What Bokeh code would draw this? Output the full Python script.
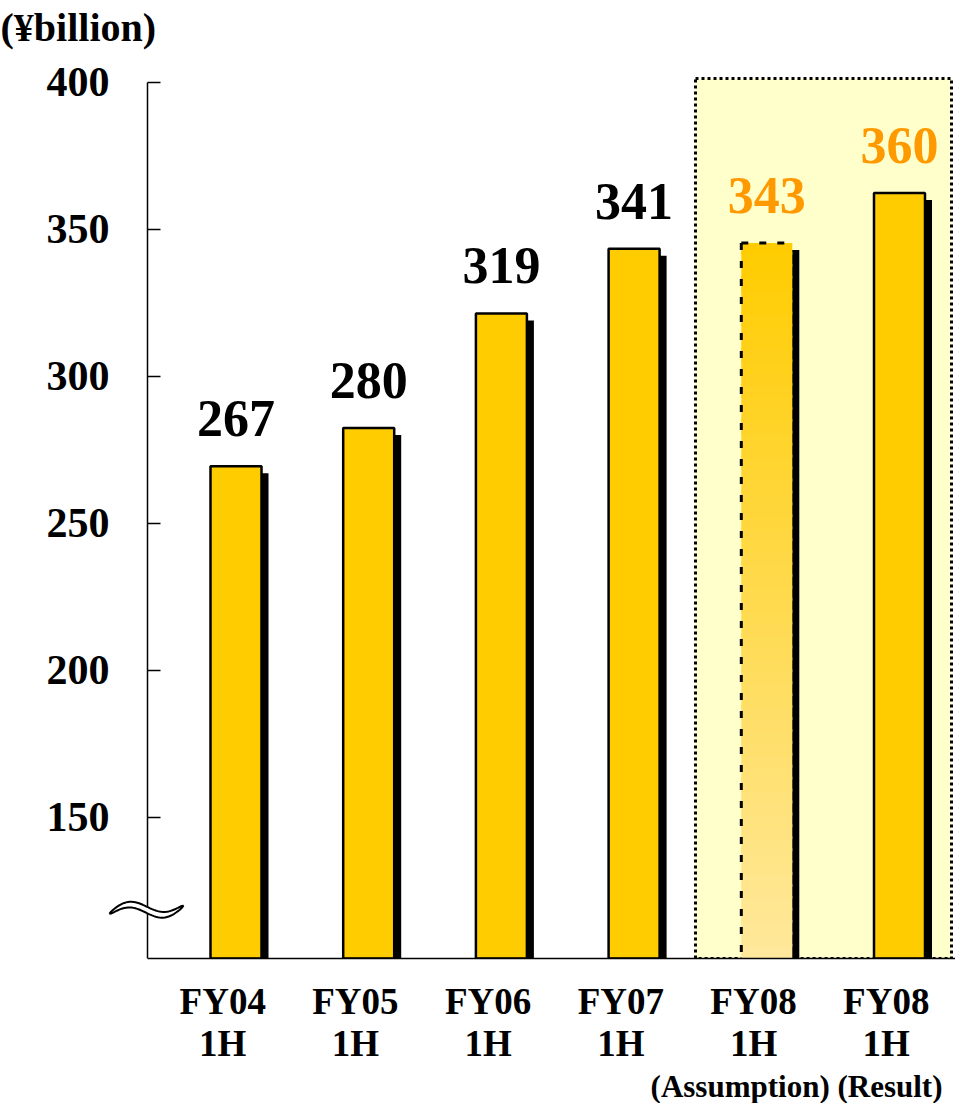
import numpy as np
from bokeh.plotting import figure
from bokeh.models import Range1d, FixedTicker, Title, BoxAnnotation, PolyAnnotation, ColumnDataSource
from bokeh.embed import file_html
from bokeh.resources import INLINE
from bokeh.core.properties import value

# ---------------- data ----------------
categories = ["FY04\n1H", "FY05\n1H", "FY06\n1H", "FY07\n1H", "FY08\n1H", "FY08\n1H"]
sales = [267, 280, 319, 341, 343, 360]
label_colors = ["#000000", "#000000", "#000000", "#000000", "#FF9900", "#FF9900"]
y_ticks = [150, 200, 250, 300, 350, 400]
unit_text = "(¥billion)"
note_text = "(Assumption) (Result)"
assumption_index = 4

# ---------------- layout / style ----------------
FONT = "Liberation Serif"
W, H = 955, 1103
AXIS_PX = 147
FRAME_L, FRAME_R, FRAME_T, FRAME_B = 40, 955, 50, 960
PX_PER_CAT = 132.7
PX_PER_UNIT = 2.952
X0_PX = 235.5
Y_TOP = 400
x_start = -(X0_PX - FRAME_L) / PX_PER_CAT
x_end = (FRAME_R - X0_PX) / PX_PER_CAT
y_end = Y_TOP + (80 - FRAME_T) / PX_PER_UNIT
y_start = Y_TOP - (FRAME_B - 80) / PX_PER_UNIT

def px_x(px):
    return (px - X0_PX) / PX_PER_CAT

def px_y(py):
    return Y_TOP - (py - 80) / PX_PER_UNIT

BAR_W = 51 / PX_PER_CAT
SH_DX = 7 / PX_PER_CAT
SH_DY = 7 / PX_PER_UNIT
LABEL_GAP = 55 / PX_PER_UNIT
TICK_SHIFT = -0.1
BAR_COLOR = "#FFCC00"

xs = list(range(len(sales)))

p = figure(width=W, height=H, output_backend="svg", toolbar_location=None,
           x_range=Range1d(x_start, x_end), y_range=Range1d(y_start, y_end),
           min_border_left=FRAME_L, min_border_right=W - FRAME_R,
           min_border_top=FRAME_T, min_border_bottom=H - FRAME_B)
p.outline_line_color = None
p.grid.visible = False
p.background_fill_color = "white"
p.border_fill_color = "white"

# unit title (above)
p.title = Title(text=unit_text, align="left", offset=-FRAME_L, standoff=5,
                text_font=FONT, text_font_style="bold", text_font_size="40px",
                text_line_height=0.8, text_color="black")

# highlight box
box = BoxAnnotation(left=px_x(695), right=px_x(951), top=px_y(76), bottom=y_start,
                    fill_color="#FFFFCC", fill_alpha=1.0, line_color="black", line_alpha=1.0,
                    line_width=3, line_dash="3 3", level="underlay")
p.add_layout(box)

# shadows
sh = ColumnDataSource(dict(
    left=[x - BAR_W / 2 + SH_DX for x in xs],
    right=[x + BAR_W / 2 + SH_DX for x in xs],
    top=sales,
    bottom=[y_start] * len(xs)))
p.quad(left="left", right="right", top="top", bottom="bottom", source=sh,
       fill_color="black", line_color=None)

# solid bars
solid = [i for i in xs if i != assumption_index]
bs = ColumnDataSource(dict(
    left=[xs[i] - BAR_W / 2 for i in solid],
    right=[xs[i] + BAR_W / 2 for i in solid],
    top=[sales[i] + SH_DY for i in solid],
    bottom=[y_start] * len(solid)))
p.quad(left="left", right="right", top="top", bottom="bottom", source=bs,
       fill_color=BAR_COLOR, line_color="black", line_width=2.5)

# assumption bar with gradient
ai = assumption_index
a_left = xs[ai] - BAR_W / 2
a_right = xs[ai] + BAR_W / 2
a_top = sales[ai] + SH_DY
N = 60
edges = np.linspace(y_start, a_top, N + 1)
overlap = 1.0
c_top = np.array([255, 204, 0])
c_bot = np.array([255, 232, 156])
cols = []
for k in range(N):
    f = 1 - (k + 0.5) / N  # 0 at top, 1 at bottom
    c = c_top + (c_bot - c_top) * f
    cols.append("#%02X%02X%02X" % tuple(int(round(v)) for v in c))
tops = [min(e + overlap, a_top) for e in edges[1:]]
p.quad(left=[a_left] * N, right=[a_right] * N, bottom=list(edges[:-1]), top=tops,
       fill_color=cols, line_color=None)
p.line(x=[a_left, a_right], y=[a_top, a_top], line_color="black", line_width=3, line_dash="7 11")
p.line(x=[a_left, a_left], y=[a_top, y_start], line_color="black", line_width=3, line_dash="7 11")

# value labels
ls = ColumnDataSource(dict(x=xs, y=[v + LABEL_GAP for v in sales],
                           t=[str(v) for v in sales], c=label_colors))
p.text(x="x", y="y", text="t", source=ls, text_color="c", text_align="center",
       text_baseline="alphabetic", text_font=value(FONT), text_font_style="bold",
       text_font_size="52px")

# y axis
yax = p.yaxis[0]
yax.fixed_location = px_x(AXIS_PX)
yax.ticker = FixedTicker(ticks=y_ticks)
yax.bounds = (y_start, Y_TOP)
yax.major_tick_in = 13
yax.major_tick_out = 0
yax.minor_tick_line_color = None
yax.axis_line_width = 1.5
yax.major_tick_line_width = 1.5
yax.major_label_text_font = FONT
yax.major_label_text_font_style = "bold"
yax.major_label_text_font_size = "42px"
yax.major_label_text_color = "black"
yax.major_label_standoff = 38

# x axis
xax = p.xaxis[0]
xax.bounds = (px_x(AXIS_PX), x_end)
tick_pos = [x + TICK_SHIFT for x in xs]
xax.ticker = FixedTicker(ticks=tick_pos)
xax.major_label_overrides = {t: c for t, c in zip(tick_pos, categories)}
xax.major_tick_line_color = None
xax.minor_tick_line_color = None
xax.axis_line_width = 1.5
xax.major_label_text_font = FONT
xax.major_label_text_font_style = "bold"
xax.major_label_text_font_size = "37px"
xax.major_label_text_line_height = 1.03
xax.major_label_text_color = "black"
xax.major_label_standoff = 16

# note under the FY08 labels
p.add_layout(Title(text=note_text, align="right", offset=W - FRAME_R + 13, standoff=0,
                   text_font=FONT, text_font_style="bold", text_font_size="31px",
                   text_line_height=0.6, text_color="black"), "below")

# axis break mark
t = np.linspace(-1, 1, 41)
cx = AXIS_PX + 37 * t - 1
cy = 911 - 4 * t + 7 * np.sin(np.pi * t)
hh = 3.2 * np.sqrt(1 - t ** 2)
bx = np.concatenate([cx, cx[::-1]])
by = np.concatenate([cy - hh, (cy + hh)[::-1]])
brk = PolyAnnotation(xs=[px_x(v) for v in bx], ys=[px_y(v) for v in by],
                     fill_color="white", fill_alpha=1.0, line_color="black",
                     line_alpha=1.0, line_width=2)
p.add_layout(brk)

open("out.html", "w").write(file_html(p, INLINE))
